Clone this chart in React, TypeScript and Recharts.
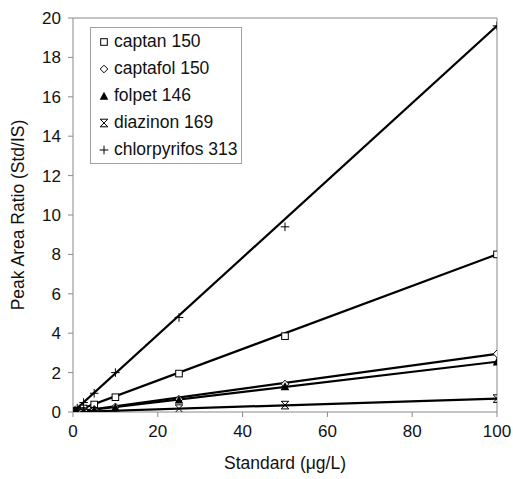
import { Label, ReferenceLine, Scatter, ScatterChart, XAxis, YAxis } from 'recharts'

const standards = [0.5, 1, 2.5, 5, 10, 25, 50, 100]

const captan = [0.03, 0.07, 0.18, 0.38, 0.75, 1.95, 3.85, 8.0]
const captafol = [0.01, 0.03, 0.07, 0.13, 0.26, 0.65, 1.42, 2.95]
const folpet = [0.01, 0.02, 0.06, 0.12, 0.23, 0.62, 1.3, 2.55]
const diazinon = [0.004, 0.007, 0.017, 0.035, 0.07, 0.17, 0.35, 0.68]
const chlorpyrifos = [0.1, 0.2, 0.48, 0.95, 2.0, 4.8, 9.4, 19.6]

// trendline end points read at x = 0 and x = 100
const trendX = [0, 100]
const captanTrend = [0, 8.0]
const captafolTrend = [0, 2.95]
const folpetTrend = [0, 2.55]
const diazinonTrend = [0, 0.68]
const chlorpyrifosTrend = [0, 19.6]

const xTicks = [0, 20, 40, 60, 80, 100]
const yTicks = [0, 2, 4, 6, 8, 10, 12, 14, 16, 18, 20]

type MarkerKind = 'square' | 'diamond' | 'triangle' | 'star' | 'plus'

const series: { name: string; values: number[]; trend: number[]; marker: MarkerKind }[] = [
  { name: 'captan 150', values: captan, trend: captanTrend, marker: 'square' },
  { name: 'captafol 150', values: captafol, trend: captafolTrend, marker: 'diamond' },
  { name: 'folpet 146', values: folpet, trend: folpetTrend, marker: 'triangle' },
  { name: 'diazinon 169', values: diazinon, trend: diazinonTrend, marker: 'star' },
  { name: 'chlorpyrifos 313', values: chlorpyrifos, trend: chlorpyrifosTrend, marker: 'plus' },
]

const FONT = '"Liberation Sans", Arial, sans-serif'
const AXIS = '#8a8a8a'

function Marker({ kind, cx, cy }: { kind: MarkerKind; cx: number; cy: number }) {
  const s = 3.8
  switch (kind) {
    case 'square':
      return <rect x={cx - s + 0.5} y={cy - s + 0.5} width={2 * s - 1} height={2 * s - 1} fill="#fff" stroke="#000" strokeWidth={1} />
    case 'diamond':
      return (
        <polygon
          points={`${cx},${cy - s} ${cx + s},${cy} ${cx},${cy + s} ${cx - s},${cy}`}
          fill="#fff"
          stroke="#000"
          strokeWidth={1}
        />
      )
    case 'triangle':
      return <polygon points={`${cx},${cy - s - 0.5} ${cx + s + 0.5},${cy + s} ${cx - s - 0.5},${cy + s}`} fill="#000" />
    case 'star':
      return (
        <g stroke="#000" strokeWidth={1}>
          <line x1={cx - s} y1={cy - s} x2={cx + s} y2={cy + s} />
          <line x1={cx - s} y1={cy + s} x2={cx + s} y2={cy - s} />
          <line x1={cx - s} y1={cy - s} x2={cx + s} y2={cy - s} />
          <line x1={cx - s} y1={cy + s} x2={cx + s} y2={cy + s} />
        </g>
      )
    default:
      return (
        <g stroke="#000" strokeWidth={1}>
          <line x1={cx - s - 0.5} y1={cy} x2={cx + s + 0.5} y2={cy} />
          <line x1={cx} y1={cy - s - 0.5} x2={cx} y2={cy + s + 0.5} />
        </g>
      )
  }
}

function LegendBox() {
  return (
    <div
      style={{
        position: 'absolute',
        left: 90,
        top: 27,
        border: '1px solid #a0a0a0',
        background: '#fff',
        padding: '0 3px 0 8px',
        fontFamily: FONT,
        fontSize: 17.5,
        color: '#111',
      }}
    >
      {series.map((s) => (
        <div key={s.name} style={{ height: 27, display: 'flex', alignItems: 'center', whiteSpace: 'nowrap' }}>
          <svg width={10} height={10} style={{ marginRight: 5 }}>
            <Marker kind={s.marker} cx={5} cy={5} />
          </svg>
          <span>{s.name}</span>
        </div>
      ))}
    </div>
  )
}

export default function App() {
  return (
    <div style={{ position: 'absolute', left: 0, top: 0, width: 513, height: 479 }}>
      <ScatterChart width={513} height={479} margin={{ top: 18, right: 16, bottom: 0, left: 0 }}>
        <XAxis
          type="number"
          dataKey="x"
          domain={[0, 100]}
          ticks={xTicks}
          height={67}
          tickSize={5}
          tickMargin={8}
          stroke={AXIS}
          tick={{ fill: '#111', fontSize: 17, fontFamily: FONT }}
          allowDataOverflow
        >
          <Label
            content={({ viewBox }: any) => (
              <text
                x={viewBox.x + viewBox.width / 2}
                y={viewBox.y + 57}
                textAnchor="middle"
                fontSize={17.5}
                fontFamily={FONT}
                fill="#111"
              >
                Standard (μg/L)
              </text>
            )}
          />
        </XAxis>
        <YAxis
          type="number"
          dataKey="y"
          domain={[0, 20]}
          ticks={yTicks}
          width={73}
          tickSize={5}
          tickMargin={7}
          stroke={AXIS}
          tick={{ fill: '#111', fontSize: 17, fontFamily: FONT }}
          allowDataOverflow
        >
          <Label
            content={({ viewBox }: any) => {
              const x = viewBox.x + 24
              const y = viewBox.y + viewBox.height / 2
              return (
                <text
                  x={x}
                  y={y}
                  transform={`rotate(-90 ${x} ${y})`}
                  textAnchor="middle"
                  fontSize={17.5}
                  fontFamily={FONT}
                  fill="#111"
                >
                  Peak Area Ratio (Std/IS)
                </text>
              )
            }}
          />
        </YAxis>
        <ReferenceLine y={20} stroke={AXIS} />
        <ReferenceLine x={100} stroke={AXIS} />
        {series.map((s) => (
          <Scatter
            key={s.name + '-trend'}
            name={s.name + ' trend'}
            data={trendX.map((x, i) => ({ x, y: s.trend[i] }))}
            line={{ stroke: '#000', strokeWidth: 2.2 }}
            lineType="joint"
            shape={() => <g />}
            legendType="none"
            isAnimationActive={false}
          />
        ))}
        {series.map((s) => (
          <Scatter
            key={s.name}
            name={s.name}
            data={standards.map((x, i) => ({ x, y: s.values[i] }))}
            shape={(p: any) => <Marker kind={s.marker} cx={p.cx} cy={p.cy} />}
            isAnimationActive={false}
          />
        ))}
      </ScatterChart>
      <LegendBox />
    </div>
  )
}
